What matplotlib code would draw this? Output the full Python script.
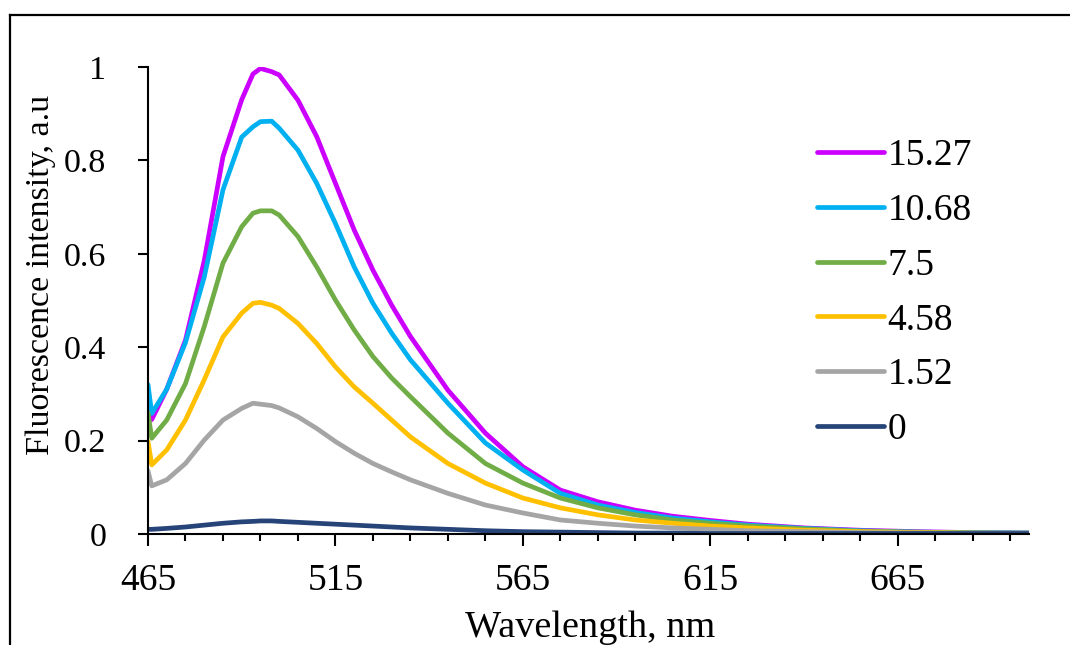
import matplotlib
matplotlib.use('Agg')
import matplotlib.pyplot as plt
from matplotlib.lines import Line2D

plt.rcParams['font.family'] = ['Liberation Serif', 'DejaVu Serif']

# wavelengths (nm)
wl = [465, 466, 470, 475, 480, 485, 490, 493, 495, 498, 500, 505, 510, 515, 520,
      525, 530, 535, 545, 555, 565, 575, 585, 595, 605, 615, 625, 640, 655, 670,
      685, 700]

# normalised fluorescence intensity, one list per concentration
c15_27 = [0.28, 0.245, 0.31, 0.415, 0.585, 0.808, 0.93, 0.985, 0.997, 0.99, 0.983,
          0.929, 0.851, 0.751, 0.651, 0.565, 0.49, 0.423, 0.308, 0.216, 0.144,
          0.094, 0.069, 0.051, 0.038, 0.029, 0.021, 0.013, 0.008, 0.005, 0.003, 0.002]
c10_68 = [0.32, 0.258, 0.31, 0.41, 0.55, 0.737, 0.85, 0.872, 0.883, 0.884, 0.869,
          0.822, 0.751, 0.665, 0.572, 0.494, 0.43, 0.373, 0.28, 0.195, 0.137,
          0.087, 0.062, 0.046, 0.034, 0.026, 0.019, 0.012, 0.007, 0.004, 0.003, 0.002]
c7_5 = [0.26, 0.205, 0.244, 0.322, 0.444, 0.58, 0.658, 0.687, 0.692, 0.692, 0.683,
        0.637, 0.572, 0.501, 0.437, 0.38, 0.334, 0.294, 0.216, 0.151, 0.109,
        0.077, 0.056, 0.041, 0.030, 0.023, 0.017, 0.011, 0.006, 0.004, 0.002, 0.002]
c4_58 = [0.198, 0.148, 0.18, 0.244, 0.33, 0.422, 0.473, 0.494, 0.496, 0.49, 0.483,
         0.451, 0.408, 0.358, 0.315, 0.28, 0.244, 0.208, 0.151, 0.109, 0.077,
         0.056, 0.041, 0.030, 0.023, 0.017, 0.013, 0.008, 0.005, 0.003, 0.002, 0.001]
c1_52 = [0.135, 0.103, 0.116, 0.151, 0.201, 0.244, 0.269, 0.28, 0.278, 0.275, 0.27,
         0.251, 0.226, 0.198, 0.173, 0.151, 0.133, 0.116, 0.087, 0.062, 0.045,
         0.030, 0.023, 0.017, 0.013, 0.010, 0.007, 0.005, 0.003, 0.002, 0.001, 0.001]
c0 = [0.010, 0.010, 0.012, 0.015, 0.019, 0.023, 0.026, 0.027, 0.028, 0.028, 0.027,
      0.025, 0.023, 0.021, 0.019, 0.017, 0.015, 0.013, 0.010, 0.007, 0.005,
      0.004, 0.003, 0.002, 0.002, 0.001, 0.001, 0.001, 0.001, 0.001, 0.001, 0.001]

labels = ['15.27', '10.68', '7.5', '4.58', '1.52', '0']
series = [c15_27, c10_68, c7_5, c4_58, c1_52, c0]
colors = ['#CC00FF', '#00B0F0', '#70AD47', '#FFC000', '#A5A5A5', '#264478']

x_major = [465, 515, 565, 615, 665]
x_minor = list(range(475, 700, 10))
y_ticks = [0, 0.2, 0.4, 0.6, 0.8, 1]
y_ticklabels = ['0', '0.2', '0.4', '0.6', '0.8', '1']

fig = plt.figure(figsize=(10.7, 6.45), dpi=100)
ax = fig.add_axes([0.1383, 0.1721, 0.8234, 0.724])

for ys, lab, col in zip(series, labels, colors):
    ax.plot(wl, ys, color=col, lw=3.4, label=lab, solid_capstyle='round')

ax.set_xlim(465, 700)
ax.set_ylim(0, 1)
ax.set_xticks(x_major)
ax.set_xticks(x_minor, minor=True)
ax.set_yticks(y_ticks)
ax.set_yticklabels(y_ticklabels)

for s in ['top', 'right']:
    ax.spines[s].set_visible(False)
for s in ['left', 'bottom']:
    ax.spines[s].set_linewidth(1.5)

ax.tick_params(axis='x', which='major', direction='out', length=8.5, width=1.5,
               labelsize=27, pad=13)
ax.tick_params(axis='x', which='minor', direction='out', length=5, width=1.5)
ax.tick_params(axis='y', which='major', direction='out', length=7.5, width=1.5,
               labelsize=24.5, pad=22.5)

ax.set_xlabel('Wavelength, nm', fontsize=27.5, labelpad=0)
ax.set_ylabel('Fluorescence intensity, a.u', fontsize=24.5, labelpad=2)
ax.xaxis.set_label_coords(0.502, -0.163)
ax.yaxis.set_label_coords(-0.1045, 0.555)

fig.legend(loc='center left', bbox_to_anchor=(0.7636, 0.5458), frameon=False,
           fontsize=27, handlelength=1.79, handletextpad=0.09, labelspacing=0.54,
           borderpad=0, borderaxespad=0)

# outer chart border (only top and left edges are inside the picture)
fig.add_artist(Line2D([10 / 1070, 1.0], [1 - 15 / 645, 1 - 15 / 645],
                      transform=fig.transFigure, color='black', lw=1.6))
fig.add_artist(Line2D([10 / 1070, 10 / 1070], [0.0, 1 - 15 / 645],
                      transform=fig.transFigure, color='black', lw=1.6))

fig.savefig('out.png', dpi=100)
